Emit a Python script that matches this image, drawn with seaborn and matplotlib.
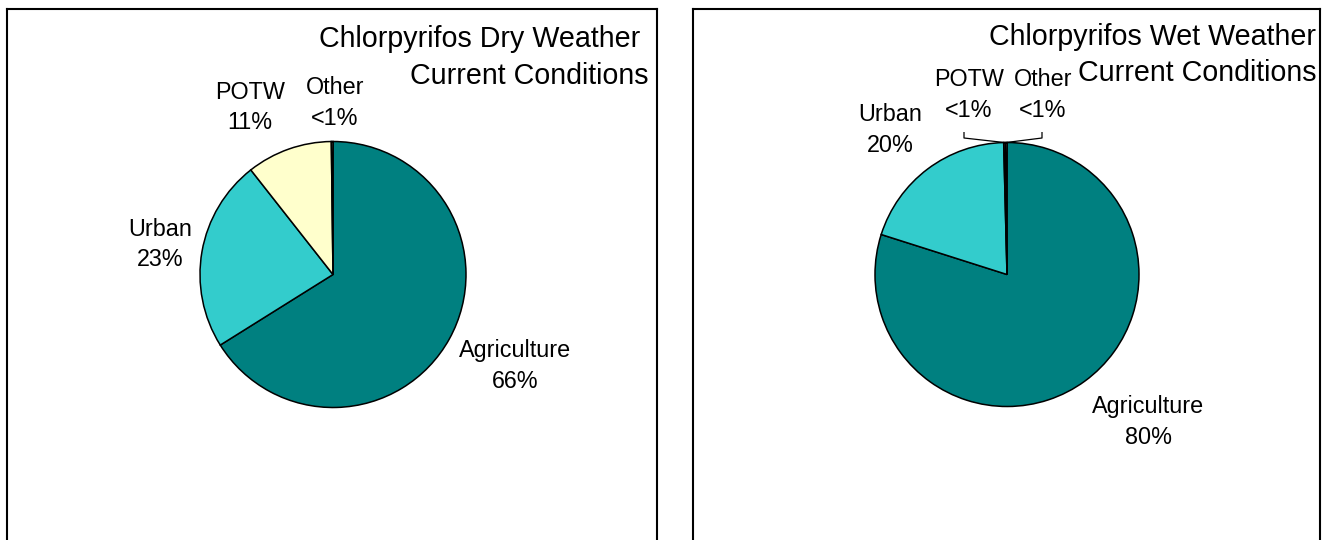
import matplotlib
matplotlib.use("Agg")
import matplotlib.pyplot as plt
import seaborn as sns
import numpy as np

# ---- data ----
categories = ["Agriculture", "Urban", "POTW", "Other"]
dry_values = [66.1, 23.3, 10.4, 0.2]
dry_labels = ["66%", "23%", "11%", "<1%"]
wet_values = [79.9, 19.7, 0.2, 0.2]
wet_labels = ["80%", "20%", "<1%", "<1%"]
dry_title = ["Chlorpyrifos Dry Weather", "Current Conditions"]
wet_title = ["Chlorpyrifos Wet Weather", "Current Conditions"]

sns.set_theme(style="white")
plt.rcParams['font.family'] = ['Liberation Sans', 'DejaVu Sans']
plt.rcParams['text.color'] = 'black'

palette = sns.color_palette(["#008080", "#33CCCC", "#FFFFCC", "#CCFFFF"])

W, H = 1325, 540
fig = plt.figure(figsize=(W / 100, H / 100), dpi=100)
fig.patch.set_facecolor("white")


def Y(p):
    return H - p


def panel(x0, x1):
    ax = fig.add_axes([x0 / W, 0, (x1 - x0) / W, (H - 9) / H])
    ax.set_facecolor("white")
    return ax


def draw_pie(ax, values, cx, cy, r):
    wedges, _ = ax.pie(values, colors=palette, startangle=90, counterclock=False,
                       center=(cx, Y(cy)), radius=r, frame=True,
                       wedgeprops=dict(edgecolor="black", linewidth=1.1))
    return wedges


def style(ax, x0, x1):
    ax.set_xlim(x0, x1)
    ax.set_ylim(0, H - 9)
    ax.set_aspect("equal", adjustable="box")
    ax.set_xticks([])
    ax.set_yticks([])
    for s in ["left", "right", "top"]:
        ax.spines[s].set_visible(True)
        ax.spines[s].set_color("black")
        ax.spines[s].set_linewidth(1.5)
    ax.spines["bottom"].set_visible(False)


LFS = 16.8
TFS = 20.6
LS = 1.43

# ---- left panel ----
axL = panel(7, 657)
draw_pie(axL, dry_values, 333, 274.5, 133)
style(axL, 7, 657)
axL.text(640, Y(39), dry_title[0], ha="right", va="center", fontsize=TFS)
axL.text(648, Y(76), dry_title[1], ha="right", va="center", fontsize=TFS)
dry_pos = [(515, 366), (160, 244.5), (250, 107.5), (335, 103)]
for cat, lab, (px, py) in zip(categories, dry_labels, dry_pos):
    axL.text(px, Y(py), f"{cat}\n{lab}", ha="center", va="center",
             fontsize=LFS, linespacing=LS)

# ---- right panel ----
axR = panel(693, 1320)
wedgesR = draw_pie(axR, wet_values, 1007, 274.5, 132)
style(axR, 693, 1320)
axR.text(1316, Y(37), wet_title[0], ha="right", va="center", fontsize=TFS)
axR.text(1316, Y(73), wet_title[1], ha="right", va="center", fontsize=TFS)
wet_pos = [(1148, 422), (890, 130), (969, 95), (1043, 95)]
for cat, lab, (px, py) in zip(categories, wet_labels, wet_pos):
    axR.text(px, Y(py), f"{cat}\n{lab}", ha="center", va="center",
             fontsize=LFS, linespacing=LS)

# leader lines for the tiny wet-weather slices
for w, lx in zip(wedgesR[2:], [964, 1042]):
    ang = np.deg2rad((w.theta1 + w.theta2) / 2)
    ex = w.center[0] + w.r * np.cos(ang)
    ey = w.center[1] + w.r * np.sin(ang)
    axR.plot([lx, lx, ex], [Y(132), Y(138), ey], color="black", lw=0.9,
             solid_capstyle="butt")

fig.savefig("out.png", dpi=100, facecolor="white")
